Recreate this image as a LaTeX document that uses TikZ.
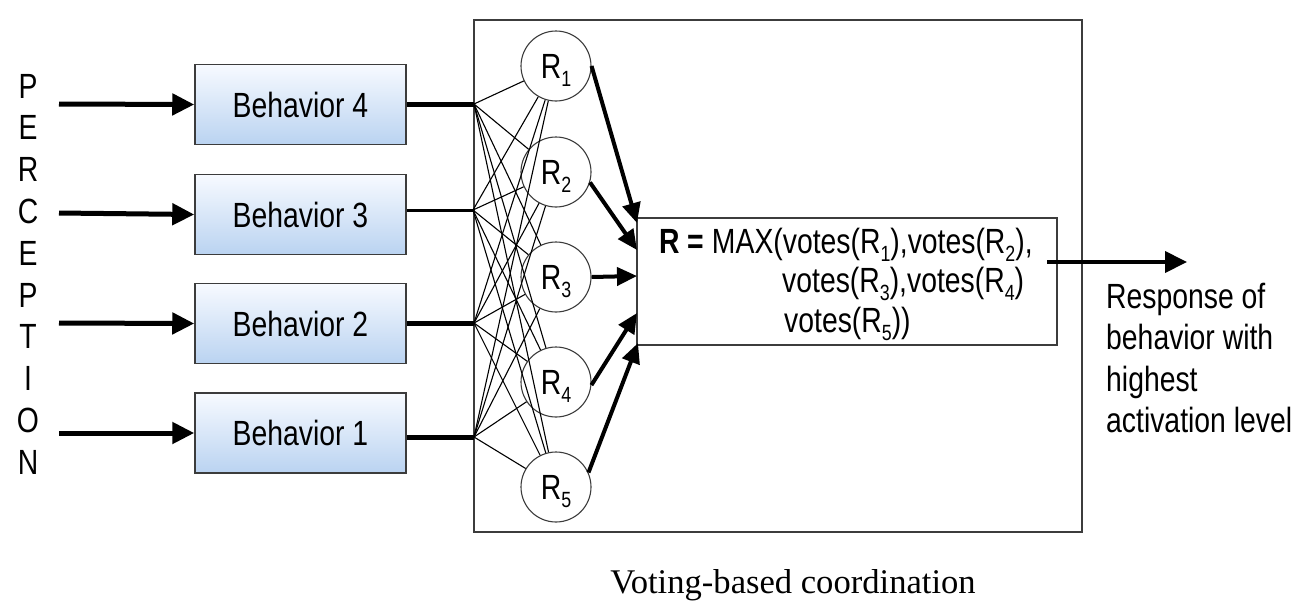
\documentclass[tikz,border=0pt]{standalone}
\usepackage{fontspec}
\setmainfont{Liberation Sans}[FakeStretch=0.81]
\newfontfamily\capfont{Liberation Serif}
\usetikzlibrary{arrows.meta}
\newcommand\sbs[1]{\smash{\raisebox{-8pt}{\fontsize{22}{22}\selectfont #1}}}
\definecolor{btop}{RGB}{247,250,255}
\definecolor{bbot}{RGB}{186,211,241}
\definecolor{edgec}{RGB}{60,60,60}
\tikzset{
  bigfont/.style={font=\fontsize{35}{42}\selectfont},
  behbox/.style={draw=edgec, line width=1.5pt, minimum width=211pt, minimum height=80pt,
    inner sep=0pt, top color=btop, bottom color=bbot, bigfont},
  percarrow/.style={line width=5pt, -{Triangle[length=22pt,width=21pt]}},
  votearrow/.style={line width=4pt, -{Triangle[length=20pt,width=18pt]}},
  outarrow/.style={line width=4pt, -{Triangle[length=22pt,width=21pt]}},
  bline/.style={line width=5pt},
  blinethin/.style={line width=3pt},
  fanline/.style={line width=1.1pt},
  rnode/.style={circle, draw=edgec, line width=1.1pt, minimum size=70pt, inner sep=0pt, fill=white, bigfont},
  frame/.style={draw=edgec, line width=1.5pt, inner sep=0pt},
  letter/.style={bigfont, anchor=base, inner sep=0pt},
  txt/.style={bigfont, anchor=base west, inner sep=0pt}
}
\begin{document}
\begin{tikzpicture}[x=1pt,y=-1pt]
\useasboundingbox (0,0) rectangle (1304,614);
% PERCEPTION
\foreach \l [count=\k from 0] in {P,E,R,C,E,P,T,I,O,N}{
  \node[letter] (perc\k) at (28,98+41.8*\k) {\l};
}
% behavior boxes
\node[behbox] (b4) at (300.5,104.5) {Behavior 4};
\node[behbox] (b3) at (300.5,214.5) {Behavior 3};
\node[behbox] (b2) at (300.5,323.5) {Behavior 2};
\node[behbox] (b1) at (300.5,433) {Behavior 1};
% perception arrows
\coordinate (s4) at (59,104);
\coordinate (s3) at (59,213);
\coordinate (s2) at (59,323);
\coordinate (s1) at (59,433);
\draw[percarrow] (s4) -- (b4.west);
\draw[percarrow] (s3) -- (b3.west);
\draw[percarrow] (s2) -- (b2.west);
\draw[percarrow] (s1) -- (b1.west);
% outer frame
\node[frame, minimum width=608pt, minimum height=512pt] (outer) at (778,276) {};
% formula box
\node[frame, minimum width=420pt, minimum height=127pt] (fbox) at (847,281.5) {};
% fan points
\coordinate (p4) at (474,104);
\coordinate (p3) at (473,210);
\coordinate (p2) at (474,323);
\coordinate (p1) at (474,437);
\draw[bline] (b4.east |- p4) -- (p4);
\draw[blinethin] (b3.east |- p3) -- (p3);
\draw[bline] (b2.east |- p2) -- (p2);
\draw[bline] (b1.east |- p1) -- (p1);
% R nodes
\node[rnode] (R1) at (556,66) {R\sbs{1}};
\node[rnode] (R2) at (556,172) {R\sbs{2}};
\node[rnode] (R3) at (556,277) {R\sbs{3}};
\node[rnode] (R4) at (556,382) {R\sbs{4}};
\node[rnode] (R5) at (556,487) {R\sbs{5}};
% fan lines
\foreach \p in {p1,p2,p3,p4}{
  \foreach \r in {R1,R2,R3,R4,R5}{
    \draw[fanline] (\p) -- (\r);
  }
}
% vote arrows
\coordinate (t1) at (637,223);
\coordinate (t2) at (637,250);
\coordinate (t3) at (637,276);
\coordinate (t4) at (637,313);
\coordinate (t5) at (638,343);
\draw[votearrow] (R1.east) -- (t1);
\draw[votearrow] (R2.-17) -- (t2);
\draw[votearrow] (R3.east) -- (t3);
\draw[votearrow] (R4.-5) -- (t4);
\draw[votearrow] (R5.24) -- (t5);
% formula
\node[txt] (f1) at (659,253) {\textbf{R =} MAX(votes(R\sbs{1}),votes(R\sbs{2}),};
\node[txt] (f2) at (782,292) {votes(R\sbs{3}),votes(R\sbs{4})};
\node[txt] (f3) at (784,332) {votes(R\sbs{5}))};
% output
\coordinate (o1) at (1047,262);
\coordinate (o2) at (1187,262);
\draw[outarrow] (o1) -- (o2);
\node[txt] (resp1) at (1106,308) {Response of};
\node[txt] (resp2) at (1106,349.5) {behavior with};
\node[txt] (resp3) at (1106,391) {highest};
\node[txt] (resp4) at (1106,432.5) {activation level};
% caption
\node[anchor=base, inner sep=0pt, font=\capfont\fontsize{34.6}{40}\selectfont] (cap) at (793,593) {Voting-based coordination};
\end{tikzpicture}
\end{document}
